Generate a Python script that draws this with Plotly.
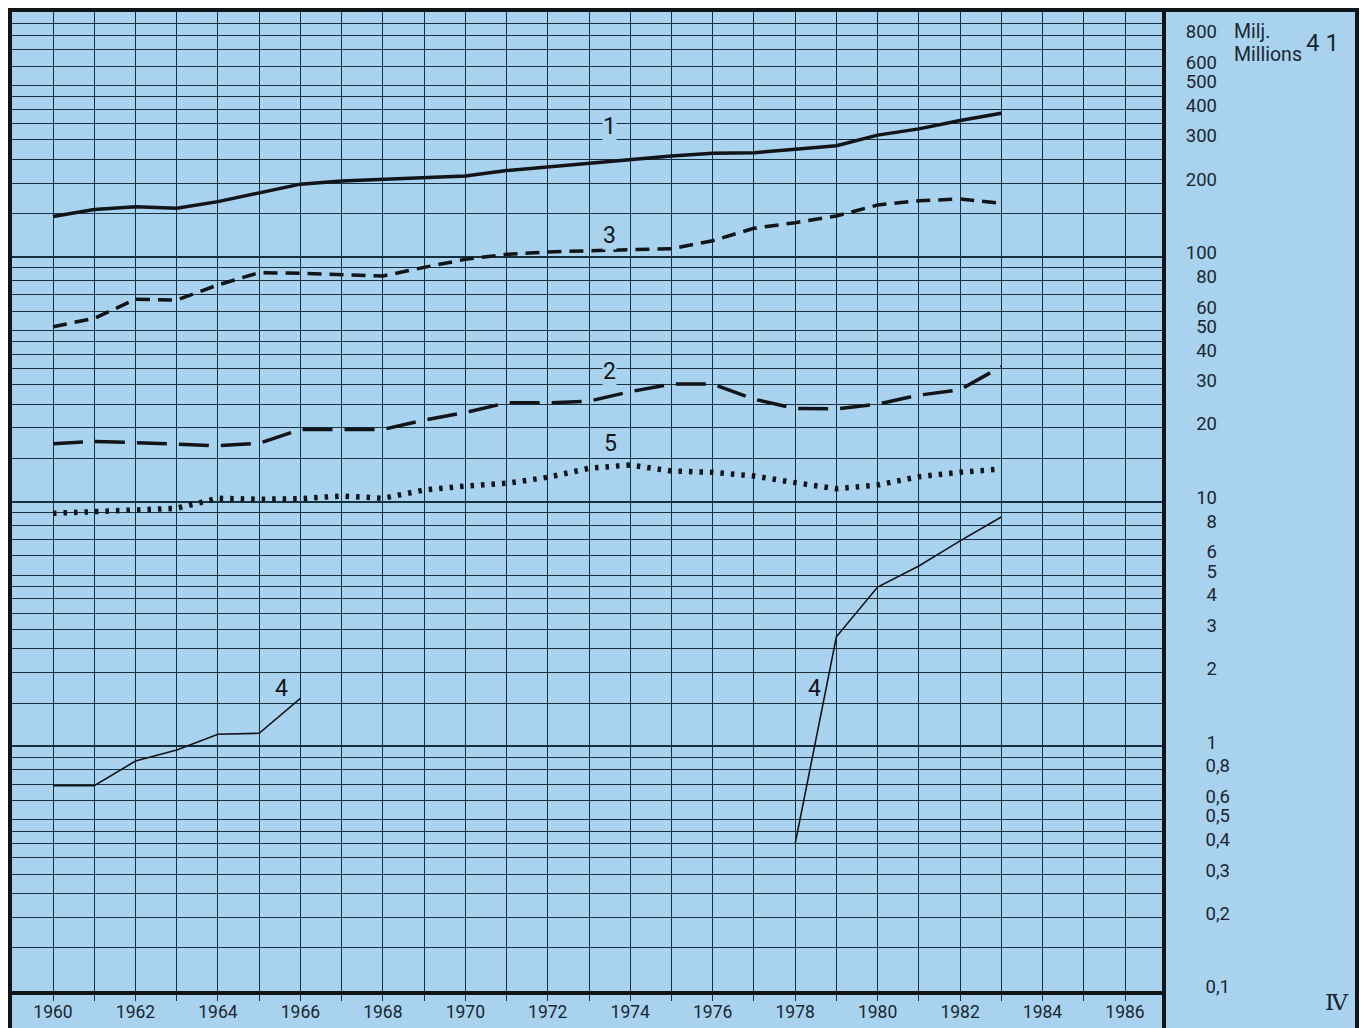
import plotly.graph_objects as go

# ---------------- data ----------------
years = list(range(1960, 1984))
series1 = [146, 156, 160, 158, 168, 183, 198, 204, 207, 210, 214, 225,
           233, 241, 248, 258, 265, 266, 275, 284, 314, 333, 360, 386]
series3 = [51.8, 56.0, 67.0, 66.6, 76.7, 86.1, 85.6, 84.8, 83.4, 90.5, 97.6, 102.3,
           104.6, 105.8, 106.6, 107.9, 116.3, 130.7, 137.8, 146.8, 162.7, 169.4, 172.2, 165.4]
series2 = [17.2, 17.6, 17.4, 17.2, 16.9, 17.3, 19.7, 19.7, 19.7, 21.5, 23.1, 25.3,
           25.3, 25.7, 28.1, 30.2, 30.2, 26.2, 24.0, 23.9, 25.0, 27.2, 28.6, 35.6]
series5 = [8.95, 9.08, 9.29, 9.38, 10.31, 10.21, 10.27, 10.53, 10.31, 11.14, 11.57, 11.87,
           12.56, 13.67, 14.10, 13.32, 13.16, 12.71, 11.94, 11.28, 11.68, 12.63, 13.16, 13.58]
years4a = [1960, 1961, 1962, 1963, 1964, 1965, 1966]
series4a = [0.69, 0.69, 0.87, 0.965, 1.12, 1.13, 1.57]
years4b = [1978, 1979, 1980, 1981, 1982, 1983]
series4b = [0.40, 2.80, 4.47, 5.45, 6.90, 8.64]

x_ticks = list(range(1960, 1987))
x_ticktext = [str(y) if y % 2 == 0 else "" for y in x_ticks]

major_grid = [0.1, 1, 10, 100, 1000]
minor_mult = [1.5, 2, 2.5, 3, 3.5, 4, 4.5, 5, 6, 7, 8, 9]
minor_grid = [m * d for d in [0.1, 1, 10, 100] for m in minor_mult]

int_labels_vals = [1, 2, 3, 4, 5, 6, 8, 10, 20, 30, 40, 50, 60, 80,
                   100, 200, 300, 400, 500, 600, 800]
int_labels_text = [str(v) for v in int_labels_vals]
dec_labels_vals = [0.1, 0.2, 0.3, 0.4, 0.5, 0.6, 0.8]
dec_labels_text = ["0,1", "0,2", "0,3", "0,4", "0,5", "0,6", "0,8"]

# ---------------- style ----------------
BLUE = "#a8d2ee"
INK = "#111418"
GRID = "#16303f"
TXT = "#1b2630"
FONT = "Roboto"

OFF = 8  # page body margin
W, H = 1351, 1020
ML, MR, MT, MB = 3, 1, 4, 37
PW = W - ML - MR
PH = H - MT - MB
fx = lambda p: (p - OFF - ML) / PW          # screen px -> paper x
fy = lambda p: (H - MB - (p - OFF)) / PH    # screen px -> paper y
DOM = fx(1164)

fig = go.Figure()

fig.add_trace(go.Scatter(x=years, y=series1, mode="lines",
                         line=dict(color=INK, width=3.5), showlegend=False))
fig.add_trace(go.Scatter(x=years, y=series3, mode="lines",
                         line=dict(color=INK, width=3.5, dash="14px,8px"), showlegend=False))
fig.add_trace(go.Scatter(x=years, y=series2, mode="lines",
                         line=dict(color=INK, width=3.5, dash="30px,12px"), showlegend=False))
fig.add_trace(go.Scatter(x=years, y=series5, mode="lines",
                         line=dict(color=INK, width=5.5, dash="3.5px,7px"), showlegend=False))
fig.add_trace(go.Scatter(x=years4a + [None] + years4b, y=series4a + [None] + series4b,
                         mode="lines", connectgaps=False,
                         line=dict(color=INK, width=1.6), showlegend=False))
# carriers for the label axes
fig.add_trace(go.Scatter(x=[None], y=[None], yaxis="y2", showlegend=False, hoverinfo="skip"))
fig.add_trace(go.Scatter(x=[None], y=[None], yaxis="y3", showlegend=False, hoverinfo="skip"))

lab_font = dict(family=FONT, size=18.5, color=TXT)

fig.update_layout(
    width=W, height=H,
    margin=dict(l=ML, r=MR, t=MT, b=MB, pad=0),
    paper_bgcolor=BLUE,
    plot_bgcolor=BLUE,
    xaxis=dict(domain=[0, DOM], range=[1958.981, 1986.946],
               tickmode="array", tickvals=x_ticks, ticktext=x_ticktext,
               showgrid=True, gridcolor=GRID, gridwidth=1.2,
               ticks="outside", ticklen=6, tickwidth=1.2, tickcolor=GRID,
               ticklabelstandoff=-4,
               showline=True, linecolor=INK, linewidth=3.5,
               tickfont=dict(family=FONT, size=17.5, color=TXT),
               zeroline=False, fixedrange=True),
    yaxis=dict(type="log", range=[-1, 3],
               tickmode="array", tickvals=major_grid, showticklabels=False,
               showgrid=True, gridcolor=GRID, gridwidth=2, ticks="",
               minor=dict(tickmode="array", tickvals=minor_grid, showgrid=True,
                          gridcolor=GRID, gridwidth=1.1, ticks=""),
               showline=False, zeroline=False, fixedrange=True),
    yaxis2=dict(type="log", range=[-1, 3], overlaying="y", anchor="free",
                position=fx(1217), side="left",
                tickmode="array", tickvals=int_labels_vals, ticktext=int_labels_text,
                showgrid=False, ticks="", showline=False, zeroline=False,
                ticklabelshift=-4, tickfont=lab_font),
    yaxis3=dict(type="log", range=[-1, 3], overlaying="y", anchor="free",
                position=fx(1230), side="left",
                tickmode="array", tickvals=dec_labels_vals, ticktext=dec_labels_text,
                showgrid=False, ticks="", showline=False, zeroline=False,
                ticklabelshift=-4, tickfont=lab_font),
)

# frame
fig.add_shape(type="rect", xref="paper", yref="paper",
              x0=fx(10), x1=fx(1357), y0=-0.1, y1=fy(10),
              line=dict(color=INK, width=4), layer="above")
fig.add_shape(type="line", xref="x domain", yref="paper",
              x0=1, x1=1, y0=-0.1, y1=fy(10),
              line=dict(color=INK, width=4), layer="above")

# series labels (log axis: annotation y in log10 units)
series_labels = [("1", 1973.49, 2.534), ("3", 1973.49, 2.085), ("2", 1973.49, 1.533),
                 ("5", 1973.52, 1.239), ("4", 1965.55, 0.238), ("4", 1978.46, 0.238)]
for txt, xv, yv in series_labels:
    fig.add_annotation(x=xv, y=yv, xref="x", yref="y", text=txt, showarrow=False,
                       font=dict(family=FONT, size=23, color=INK),
                       bgcolor=BLUE, borderpad=0)

fig.add_annotation(x=fx(1232), y=fy(32), xref="paper", yref="paper", text="Milj.",
                   showarrow=False, xanchor="left", yanchor="middle",
                   font=dict(family=FONT, size=19.5, color=TXT))
fig.add_annotation(x=fx(1232), y=fy(55), xref="paper", yref="paper", text="Millions",
                   showarrow=False, xanchor="left", yanchor="middle",
                   font=dict(family=FONT, size=19.5, color=TXT))
fig.add_annotation(x=fx(1322), y=fy(43), xref="paper", yref="paper", text="4 1",
                   showarrow=False, xanchor="center", yanchor="middle",
                   font=dict(family=FONT, size=24, color=TXT))
fig.add_annotation(x=fx(1337), y=fy(1002), xref="paper", yref="paper", text="Ⅳ",
                   showarrow=False, xanchor="center", yanchor="middle",
                   font=dict(family="DejaVu Serif", size=23, color=TXT))

fig.write_html("out.html")
